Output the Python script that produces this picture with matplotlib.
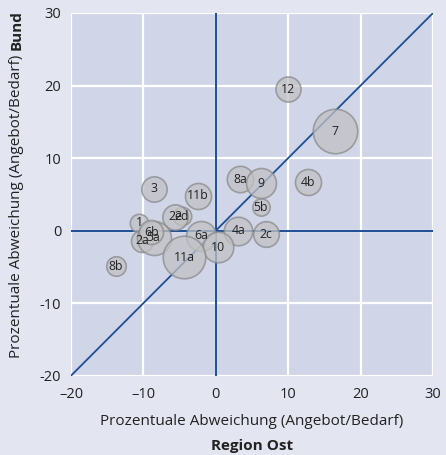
import matplotlib.pyplot as plt
import numpy as np

labels = ["1", "2a", "2c", "2d", "2e", "3", "4a", "4b", "5a", "5b",
          "6a", "6b", "7", "8a", "8b", "9", "10", "11a", "11b", "12"]
region_ost = [-10.6, -10.2, 6.9, -4.7, -5.6, -8.6, 3.1, 12.7, -8.6, 6.2,
              -2.0, -8.9, 16.4, 3.4, -13.8, 6.2, 0.3, -4.4, -2.5, 10.0]
bund = [1.1, -1.4, -0.5, 2.0, 1.9, 5.8, 0.0, 6.7, -1.0, 3.2,
        -0.7, -0.2, 13.7, 7.1, -4.9, 6.5, -2.3, -3.7, 4.8, 19.5]
# bubble radius (data units)
radius = [1.27, 1.52, 1.77, 1.28, 1.75, 1.75, 1.97, 1.80, 2.35, 1.20,
          2.07, 1.66, 3.07, 1.82, 1.35, 2.07, 2.11, 2.94, 1.80, 1.73]

xticks = [-20, -10, 0, 10, 20, 30]
yticks = [-20, -10, 0, 10, 20, 30]

blue = "#1c4f96"
plt.rcParams["font.family"] = ["Open Sans", "DejaVu Sans"]

fig = plt.figure(figsize=(4.46, 4.55), dpi=100, facecolor="#e3e5f0")
ax = fig.add_axes([71 / 446, 79.3 / 455, 362 / 446, 362.7 / 455])
ax.set_facecolor("#d0d5e8")
ax.set_xlim(-20, 30)
ax.set_ylim(-20, 30)

ax.set_xticks(xticks)
ax.set_yticks(yticks)
ax.set_xticklabels([f"{t}" if t >= 0 else f"\u2013{-t}" for t in xticks])
ax.set_yticklabels([f"{t}" for t in yticks])
ax.tick_params(length=0, labelsize=10.5, colors="#222222")
ax.tick_params(axis="x", pad=8)
ax.tick_params(axis="y", pad=7)
ax.grid(True, color="white", linewidth=1.6)
ax.set_axisbelow(True)
for s in ax.spines.values():
    s.set_visible(False)

ax.axhline(0, color=blue, linewidth=1.4, zorder=1)
ax.axvline(0, color=blue, linewidth=1.4, zorder=1)
ax.plot([-20, 30], [-20, 30], color=blue, linewidth=1.3, zorder=1)

ppd = 362 / 50 * 72 / 100  # points per data unit
for x, y, r, lab in zip(region_ost, bund, radius, labels):
    ax.scatter(x, y, s=(2 * r * ppd) ** 2, color="#c2c2c4", alpha=0.75,
               edgecolors="#8a8a8a", linewidths=1.2, zorder=3)
    ax.text(x, y, lab, ha="center", va="center", fontsize=8.8,
            color="#222222", zorder=4)

fig.text(252 / 446, 1 - 421.7 / 455, "Prozentuale Abweichung (Angebot/Bedarf)",
         ha="center", va="center", fontsize=11, color="#222222")
fig.text(252 / 446, 1 - 446 / 455, "Region Ost", ha="center", va="center",
         fontsize=11, fontweight="bold", color="#222222")

fig.text(17 / 446, 1 - 55 / 455, "Prozentuale Abweichung (Angebot/Bedarf)",
         rotation=90, ha="center", va="top", fontsize=11, color="#222222")
fig.text(17 / 446, 1 - 50 / 455, "Bund", rotation=90, ha="center",
         va="bottom", fontsize=11, fontweight="bold", color="#222222")

fig.savefig("out.png", dpi=100, facecolor=fig.get_facecolor())
